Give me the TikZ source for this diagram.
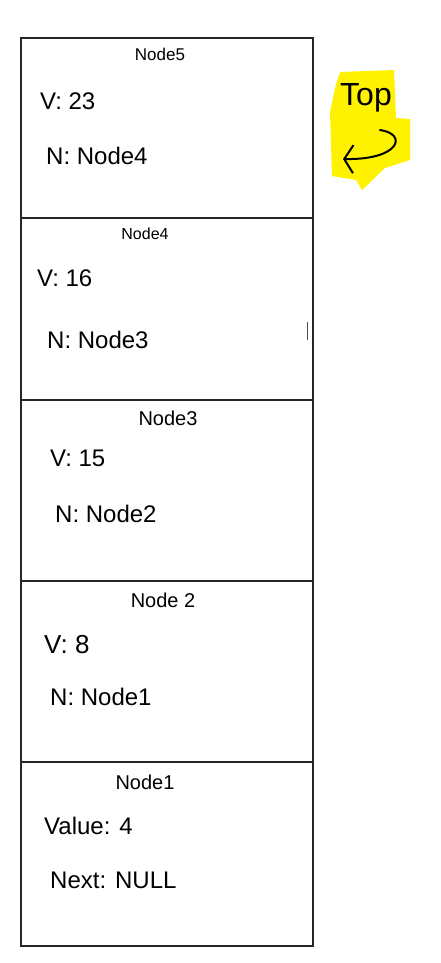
\documentclass[tikz,border=0pt]{standalone}
\usepackage{fontspec}
\setmainfont{Liberation Sans}
\usetikzlibrary{arrows.meta}
\begin{document}
\begin{tikzpicture}[x=1pt,y=-1pt,
  cell/.style={draw=black!85,line width=1.6pt,minimum width=292pt,inner sep=0pt,outer sep=0pt},
  title/.style={font=\fontsize{17}{17}\selectfont,inner sep=0pt},
  bigtitle/.style={font=\fontsize{20}{20}\selectfont,inner sep=0pt},
  field/.style={font=\fontsize{24}{24}\selectfont,anchor=west,inner sep=0pt}]
\useasboundingbox (0,0) rectangle (441,963);
\fill[white] (0,0) rectangle (441,963);
% cells
\node[cell,minimum height=180pt] (b5) at (167,128) {};
\node[cell,minimum height=182pt] (b4) at (167,309) {};
\node[cell,minimum height=181pt] (b3) at (167,490.5) {};
\node[cell,minimum height=181pt] (b2) at (167,671.5) {};
\node[cell,minimum height=184pt] (b1) at (167,854) {};
% Node5
\node[title] (t5) at (160,54) {Node5};
\node[field] (v5) at (40,101) {V: 23};
\node[field] (n5) at (46,156) {N: Node4};
% Node4
\node[title,font=\fontsize{16}{16}\selectfont] (t4) at (145,234) {Node4};
\node[field] (v4) at (37,278) {V: 16};
\node[field] (n4) at (47,340) {N: Node3};
\draw[black!70,line width=1pt] (307,322) -- (307,340);
% Node3
\node[bigtitle] (t3) at (168,418) {Node3};
\node[field] (v3) at (50,458) {V: 15};
\node[field] (n3) at (55,514) {N: Node2};
% Node2
\node[bigtitle] (t2) at (163,600) {Node 2};
\node[field,font=\fontsize{26}{26}\selectfont] (v2) at (44,645) {V: 8};
\node[field] (n2) at (50,697) {N: Node1};
% Node1
\node[bigtitle] (t1) at (145,782) {Node1};
\node[field] (v1) at (44,826) {Value: 4};
\node[field] (n1) at (50,880) {Next: NULL};
% Top marker
\fill[yellow] (340,72) -- (394,70) -- (396,118) -- (410,119) -- (410,160) -- (385,168) -- (362,190) -- (356,180) -- (332,176) -- (330,112) -- (336,84) -- cycle;
\node[font=\fontsize{32}{32}\selectfont,inner sep=0pt] (top) at (366,98) {Top};
\coordinate (as) at (380,130);
\coordinate (ae) at (343,159);
\draw[line width=2pt,line cap=round,-{Straight Barb[length=9pt,width=28pt]}] (as) .. controls (408,134) and (400,160) .. (ae);
\end{tikzpicture}
\end{document}
